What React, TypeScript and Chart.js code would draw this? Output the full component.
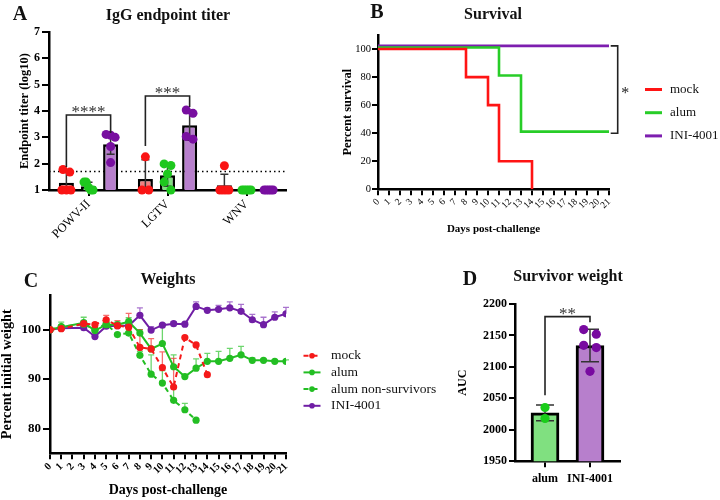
import React, { useEffect, useRef } from 'react';
import { Chart, registerables } from 'chart.js';

Chart.register(...registerables);

const SERIF = "'Liberation Serif', 'Times New Roman', serif";
Chart.defaults.color = '#000';
Chart.defaults.font.family = SERIF;

// ---------------- Panel A: IgG endpoint titer ----------------
const titerGroups = ['POWV-II', 'LGTV', 'WNV'];
const titerSeries = ['mock', 'alum', 'INI-4001'];
const titerMockMean = [1.28, 1.42, 1.18];
const titerAlumMean = [1.14, 1.56, 1.0];
const titerIniMean = [2.74, 3.46, 1.0];
const titerMockSD = [0.41, 0.73, 0.42];
const titerAlumSD = [0.15, 0.42, 0];
const titerIniSD = [0.38, 0.57, 0];
const titerMockPts = [[1.78, 1.68, 1.0, 1.0, 1.0], [2.26, 1.0, 1.0], [1.92, 1.0, 1.0, 1.0, 1.0]];
const titerAlumPts = [[1.3, 1.3, 1.1, 1.0, 1.0], [1.99, 1.93, 1.61, 1.3, 1.0], [1.0, 1.0, 1.0, 1.0, 1.0]];
const titerIniPts = [[3.08, 3.11, 3.0, 2.65, 2.04], [3.91, 4.04, 2.93, 3.03], [1.0, 1.0, 1.0, 1.0, 1.0]];
const titerCutoff = 1.7;
// significance brackets: group, label, bracket top, left leg end, right leg end
const titerSigGroup = [0, 1];
const titerSigLabel = ['****', '***'];
const titerSigTop = [3.85, 4.57];
const titerSigLeftEnd = [1.87, 2.67];
const titerSigRightEnd = [3.16, 4.15];

// ---------------- Panel B: Survival ----------------
const survSeries = ['mock', 'alum', 'INI-4001'];
const survMockDays = [0, 8, 10, 11, 14];
const survMockPct = [100, 80, 60, 20, 0];
const survAlumDays = [0, 11, 13, 21];
const survAlumPct = [100, 80, 40, 40];
const survIniDays = [0, 21];
const survIniPct = [100, 100];
const survSig = '*';

// ---------------- Panel C: Weights ----------------
const wMockDays = [0, 1, 3, 4, 5, 6, 7, 8, 9, 10, 11, 12, 13, 14];
const wMock = [100, 100.2, 101.2, 101.0, 102.0, 100.8, 100.5, 96.4, 96.1, 92.3, 88.4, 98.4, 96.9, 90.9];
const wMockErr = [0, 0.3, 0.5, 0.4, 0.9, 1.0, 2.8, 3.6, 2.1, 3.2, 5.8, 0, 0, 0];
const wAlumDays = [0, 1, 3, 4, 5, 6, 7, 8, 9, 10, 11, 12, 13, 14, 15, 16, 17, 18, 19, 20, 21];
const wAlum = [100, 100.5, 101.4, 99.8, 101.0, 101.0, 101.6, 99.3, 96.1, 97.2, 92.5, 90.5, 92.2, 93.6, 93.6, 94.2, 94.9, 93.8, 93.8, 93.6, 93.6];
const wAlumErr = [0, 1.0, 1.1, 0.5, 0.6, 0.5, 0.8, 0.7, 0, 4.0, 2.4, 0, 1.9, 1.6, 2.0, 2.0, 1.7, 0.5, 0.3, 0.3, 0.3];
const wAlumNSDays = [0, 1, 3, 4, 5, 6, 7, 8, 9, 10, 11, 12, 13];
const wAlumNS = [100, 100.6, 101.1, 100.0, 101.2, 99.0, 99.3, 94.8, 91.0, 89.2, 85.7, 83.8, 81.7];
const wAlumNSErr = [0, 0.3, 0.3, 0.3, 0.3, 0.3, 0.3, 0.8, 3.9, 2.5, 3.0, 1.3, 0];
const wIniDays = [0, 1, 3, 4, 5, 6, 7, 8, 9, 10, 11, 12, 13, 14, 15, 16, 17, 18, 19, 20, 21];
const wIni = [100, 100.3, 100.4, 98.6, 100.7, 100.8, 100.8, 102.9, 99.9, 100.9, 101.2, 101.1, 104.7, 103.9, 104.1, 104.4, 103.7, 102.0, 101.0, 102.5, 103.2];
const wIniErr = [0, 0.5, 0.3, 0.3, 0.3, 0.3, 0.3, 1.5, 0.7, 0.3, 0.4, 0.3, 0.9, 0.5, 0.8, 1.2, 1.4, 1.1, 1.5, 1.1, 1.3];
const wSeries = ['mock', 'alum', 'alum non-survivors', 'INI-4001'];

// ---------------- Panel D: Survivor weight ----------------
const aucGroups = ['alum', 'INI-4001'];
const aucMean = [2027, 2134];
const aucSD = [12.5, 25.8];
const aucPts = [[2035.5, 2018], [2159.4, 2152, 2134.4, 2130.7, 2093]];
const aucSigLabel = '**';
const aucSigTop = 2180;
const aucSigLeftEnd = 2055;
const aucSigRightEnd = 2171;

// ---------------- helpers ----------------
function swarm(values: number[], yScale: any, step: number, maxSpan: number, rowGap: number) {
  const order = values.map((_, i) => i).sort((a, b) => values[b] - values[a]);
  const offs = new Array(values.length).fill(0);
  let row: number[] = [];
  const flush = () => {
    const n = row.length;
    const s = n > 1 ? Math.min(step, maxSpan / (n - 1)) : 0;
    row.forEach((k, j) => { offs[k] = (j - (n - 1) / 2) * s; });
    row = [];
  };
  for (const k of order) {
    if (row.length && Math.abs(yScale.getPixelForValue(values[row[0]]) - yScale.getPixelForValue(values[k])) > rowGap) flush();
    row.push(k);
  }
  flush();
  return offs;
}

function dot(ctx: CanvasRenderingContext2D, x: number, y: number, r: number, color: string) {
  ctx.beginPath();
  ctx.arc(x, y, r, 0, Math.PI * 2);
  ctx.fillStyle = color;
  ctx.fill();
}

function vErr(ctx: CanvasRenderingContext2D, x: number, y0: number, y1: number, cap: number, capTop: boolean, capBottom: boolean) {
  ctx.beginPath();
  ctx.moveTo(x, y0);
  ctx.lineTo(x, y1);
  if (capTop) { ctx.moveTo(x - cap, y1); ctx.lineTo(x + cap, y1); }
  if (capBottom) { ctx.moveTo(x - cap, y0); ctx.lineTo(x + cap, y0); }
  ctx.stroke();
}

function bracket(ctx: CanvasRenderingContext2D, x0: number, x1: number, yTop: number, yL: number, yR: number, label: string, size: number) {
  ctx.save();
  ctx.strokeStyle = '#222';
  ctx.lineWidth = 1.6;
  ctx.beginPath();
  ctx.moveTo(x0, yL);
  ctx.lineTo(x0, yTop);
  ctx.lineTo(x1, yTop);
  ctx.lineTo(x1, yR);
  ctx.stroke();
  ctx.fillStyle = '#333';
  ctx.font = `${size}px ${SERIF}`;
  ctx.textAlign = 'center';
  ctx.textBaseline = 'alphabetic';
  ctx.fillText(label, (x0 + x1) / 2, yTop + size * 0.12);
  ctx.restore();
}

const axisGrid = (len: number) => ({ display: true, drawOnChartArea: false, drawTicks: true, tickLength: len, color: '#000', lineWidth: 2, offset: false });
const axisBorder = { display: true, color: '#000', width: 2.5 };

// ---------------- Panel A config ----------------
const titerFill = ['rgb(240,128,128)', 'rgb(128,224,128)', 'rgb(183,127,204)'];
const titerDot = ['rgb(250,20,20)', 'rgb(30,200,30)', 'rgb(120,15,160)'];

const titerOverlay = {
  id: 'titerOverlay',
  beforeDatasetsDraw(chart: any) {
    const { ctx, chartArea, scales } = chart;
    const yc = scales.y.getPixelForValue(titerCutoff);
    ctx.save();
    ctx.setLineDash([1.5, 3]);
    ctx.strokeStyle = '#000';
    ctx.lineWidth = 1.4;
    ctx.beginPath();
    ctx.moveTo(chartArea.left, yc);
    ctx.lineTo(chartArea.right, yc);
    ctx.stroke();
    ctx.restore();
  },
  afterDatasetsDraw(chart: any) {
    const { ctx, scales } = chart;
    const y = scales.y;
    const means = [titerMockMean, titerAlumMean, titerIniMean];
    const sds = [titerMockSD, titerAlumSD, titerIniSD];
    const pts = [titerMockPts, titerAlumPts, titerIniPts];
    ctx.save();
    for (let k = 0; k < 3; k++) {
      const meta = chart.getDatasetMeta(k);
      for (let g = 0; g < titerGroups.length; g++) {
        const bar = meta.data[g];
        const m = means[k][g];
        const sd = sds[k][g];
        if (sd > 0) {
          ctx.strokeStyle = '#333';
          ctx.lineWidth = 1.5;
          const lo = Math.max(y.min, m - sd);
          vErr(ctx, bar.x, y.getPixelForValue(lo), y.getPixelForValue(m + sd), 4, true, m - sd > y.min);
        }
        const offs = swarm(pts[k][g], y, bar.width * 0.45, bar.width * 0.6, 8);
        pts[k][g].forEach((v, j) => dot(ctx, bar.x + offs[j], y.getPixelForValue(v), 4.5, titerDot[k]));
      }
    }
    const mMock = chart.getDatasetMeta(0);
    const mIni = chart.getDatasetMeta(2);
    titerSigGroup.forEach((g, i) => {
      bracket(ctx, mMock.data[g].x, mIni.data[g].x, y.getPixelForValue(titerSigTop[i]), y.getPixelForValue(titerSigLeftEnd[i]), y.getPixelForValue(titerSigRightEnd[i]), titerSigLabel[i], 17);
    });
    ctx.restore();
  },
};

function makeTiter(): any {
  const means = [titerMockMean, titerAlumMean, titerIniMean];
  return {
    type: 'bar',
    data: {
      labels: titerGroups,
      datasets: titerSeries.map((s, k) => ({ label: s, data: means[k], backgroundColor: titerFill[k] })),
    },
    options: {
      responsive: false,
      animation: false,
      layout: { padding: { left: 17.5, right: 14, top: 32, bottom: 0 } },
      plugins: { legend: { display: false }, tooltip: { enabled: false } },
      datasets: { bar: { borderColor: '#000', borderWidth: 2.5, categoryPercentage: 0.84, barPercentage: 0.68, borderSkipped: 'bottom' } },
      scales: {
        x: {
          grid: axisGrid(6),
          border: axisBorder,
          ticks: { font: { size: 12.5 }, minRotation: 45, maxRotation: 45, autoSkip: false, padding: 1 },
          afterFit: (s: any) => { s.height = 60; },
        },
        y: {
          min: 1,
          max: 7,
          grid: axisGrid(7),
          border: axisBorder,
          ticks: { stepSize: 1, font: { size: 12, weight: 'bold' }, padding: 2 },
          title: { display: true, text: 'Endpoint titer (log10)', font: { size: 12.5, weight: 'bold', lineHeight: 1.2 }, padding: 0 },
          afterFit: (s: any) => { s.width = 31.5; },
        },
      },
    },
    plugins: [titerOverlay],
  };
}

// ---------------- Panel B config ----------------
const survColors = ['rgb(255,20,20)', 'rgb(40,205,40)', 'rgb(125,30,175)'];
const survShiftPx = [0, -1.6, -3.2];

const survShift = {
  id: 'survShift',
  beforeDatasetDraw(chart: any, args: any) {
    chart.ctx.save();
    chart.ctx.translate(0, survShiftPx[args.index] || 0);
  },
  afterDatasetDraw(chart: any) {
    chart.ctx.restore();
  },
};

const survDecor = {
  id: 'survDecor',
  afterDraw(chart: any) {
    const { ctx, chartArea, scales } = chart;
    ctx.save();
    chart.data.datasets.forEach((ds: any, i: number) => {
      const yy = chartArea.top + 54.5 + i * 23.2;
      const x0 = chartArea.right + 36;
      ctx.strokeStyle = ds.borderColor;
      ctx.lineWidth = 3;
      ctx.beginPath();
      ctx.moveTo(x0, yy);
      ctx.lineTo(x0 + 17, yy);
      ctx.stroke();
      ctx.fillStyle = '#111';
      ctx.font = `13px ${SERIF}`;
      ctx.textAlign = 'left';
      ctx.textBaseline = 'middle';
      ctx.fillText(ds.label, x0 + 25, yy);
    });
    const yTop = scales.y.getPixelForValue(survIniPct[survIniPct.length - 1]) + survShiftPx[2];
    const yBot = scales.y.getPixelForValue(survAlumPct[survAlumPct.length - 1]);
    const xr = chartArea.right + 8.7;
    const xl = chartArea.right + 1.7;
    ctx.strokeStyle = '#222';
    ctx.lineWidth = 1.6;
    ctx.beginPath();
    ctx.moveTo(xl, yTop);
    ctx.lineTo(xr, yTop);
    ctx.lineTo(xr, yBot);
    ctx.lineTo(xl, yBot);
    ctx.stroke();
    ctx.fillStyle = '#222';
    ctx.font = `16px ${SERIF}`;
    ctx.textAlign = 'center';
    ctx.textBaseline = 'alphabetic';
    ctx.fillText(survSig, xr + 7.5, (yTop + yBot) / 2 + 8);
    ctx.restore();
  },
};

function makeSurvival(): any {
  const days = [survMockDays, survAlumDays, survIniDays];
  const pct = [survMockPct, survAlumPct, survIniPct];
  return {
    type: 'line',
    data: {
      datasets: survSeries.map((s, k) => ({
        label: s,
        data: days[k].map((d, i) => ({ x: d, y: pct[k][i] })),
        borderColor: survColors[k],
        backgroundColor: survColors[k],
        stepped: 'before',
        borderWidth: 2.6,
        pointRadius: 0,
        fill: false,
      })),
    },
    options: {
      responsive: false,
      animation: false,
      layout: { padding: { left: 5.5, right: 111, top: 35, bottom: 14.4 } },
      plugins: { legend: { display: false }, tooltip: { enabled: false } },
      scales: {
        x: {
          type: 'linear',
          min: 0,
          max: 21,
          grid: axisGrid(6),
          border: axisBorder,
          ticks: { stepSize: 1, autoSkip: false, minRotation: 45, maxRotation: 45, font: { size: 9.5 }, padding: 1 },
          title: { display: true, text: 'Days post-challenge', font: { size: 11, weight: 'bold', lineHeight: 1.2 }, padding: 0 },
          afterFit: (s: any) => { s.height = 46.3; },
        },
        y: {
          min: 0,
          max: 110,
          grid: axisGrid(6),
          border: axisBorder,
          ticks: { stepSize: 20, includeBounds: false, font: { size: 10.5 }, padding: 1 },
          title: { display: true, text: 'Percent survival', font: { size: 12.5, weight: 'bold', lineHeight: 1.2 }, padding: 0 },
          afterFit: (s: any) => { s.width = 37.5; },
        },
      },
    },
    plugins: [survShift, survDecor],
  };
}

// ---------------- Panel C config ----------------
const wColors = ['rgb(245,25,25)', 'rgb(35,190,35)', 'rgb(35,190,35)', 'rgb(112,30,165)'];
const wErrColors = ['rgba(245,60,60,0.75)', 'rgba(60,200,60,0.75)', 'rgba(60,200,60,0.75)', 'rgba(140,70,190,0.75)'];
const wDashes = [[5, 4], [], [5, 4], []];

const wDecor = {
  id: 'wDecor',
  beforeDatasetsDraw(chart: any) {
    const { ctx, scales } = chart;
    const days = [wMockDays, wAlumDays, wAlumNSDays, wIniDays];
    const vals = [wMock, wAlum, wAlumNS, wIni];
    const errs = [wMockErr, wAlumErr, wAlumNSErr, wIniErr];
    ctx.save();
    ctx.lineWidth = 1.3;
    for (let k = 3; k >= 0; k--) {
      ctx.strokeStyle = wErrColors[k];
      days[k].forEach((d, i) => {
        if (errs[k][i] <= 0) return;
        const x = scales.x.getPixelForValue(d);
        vErr(ctx, x, scales.y.getPixelForValue(vals[k][i]), scales.y.getPixelForValue(vals[k][i] + errs[k][i]), 3, true, false);
      });
    }
    ctx.restore();
  },
  afterDraw(chart: any) {
    const { ctx, chartArea } = chart;
    ctx.save();
    chart.data.datasets.forEach((ds: any, i: number) => {
      const yy = chartArea.top + 60.7 + i * 16.7;
      const x0 = chartArea.right + 17.5;
      ctx.strokeStyle = wColors[i];
      ctx.lineWidth = 2;
      ctx.setLineDash(wDashes[i]);
      ctx.beginPath();
      ctx.moveTo(x0, yy);
      ctx.lineTo(x0 + 17, yy);
      ctx.stroke();
      ctx.setLineDash([]);
      dot(ctx, x0 + 8.5, yy, 2.8, wColors[i]);
      ctx.fillStyle = '#111';
      ctx.font = `13.5px ${SERIF}`;
      ctx.textAlign = 'left';
      ctx.textBaseline = 'middle';
      ctx.fillText(ds.label, x0 + 27.5, yy);
    });
    ctx.restore();
  },
};

function makeWeights(): any {
  const days = [wMockDays, wAlumDays, wAlumNSDays, wIniDays];
  const vals = [wMock, wAlum, wAlumNS, wIni];
  return {
    type: 'line',
    data: {
      datasets: wSeries.map((s, k) => ({
        label: s,
        data: days[k].map((d, i) => ({ x: d, y: vals[k][i] })),
        borderColor: wColors[k],
        backgroundColor: wColors[k],
        pointBackgroundColor: wColors[k],
        pointBorderColor: wColors[k],
        borderDash: wDashes[k],
        borderWidth: 2,
        pointRadius: 3.6,
        pointBorderWidth: 0,
        tension: 0,
        fill: false,
      })),
    },
    options: {
      responsive: false,
      animation: false,
      layout: { padding: { left: 0.5, right: 164, top: 45, bottom: 3 } },
      plugins: { legend: { display: false }, tooltip: { enabled: false } },
      scales: {
        x: {
          type: 'linear',
          min: 0,
          max: 21,
          grid: axisGrid(6),
          border: axisBorder,
          ticks: { stepSize: 1, autoSkip: false, minRotation: 45, maxRotation: 45, font: { size: 10.5, weight: 'bold' }, padding: 1 },
          title: { display: true, text: 'Days post-challenge', font: { size: 14, weight: 'bold', lineHeight: 1 }, padding: 0 },
          afterFit: (s: any) => { s.height = 43.7; },
        },
        y: {
          min: 75,
          max: 107,
          grid: axisGrid(7),
          border: axisBorder,
          ticks: { stepSize: 10, includeBounds: false, font: { size: 13, weight: 'bold' }, padding: 2 },
          title: { display: true, text: 'Percent initial weight', font: { size: 14.3, weight: 'bold', lineHeight: 1 }, padding: 0 },
          afterFit: (s: any) => { s.width = 49.5; },
        },
      },
    },
    plugins: [wDecor],
  };
}

// ---------------- Panel D config ----------------
const aucFill = ['rgb(128,224,128)', 'rgb(183,127,204)'];
const aucDot = ['rgb(25,205,25)', 'rgb(120,10,160)'];

const aucDecor = {
  id: 'aucDecor',
  afterDatasetsDraw(chart: any) {
    const { ctx, scales } = chart;
    const y = scales.y;
    const meta = chart.getDatasetMeta(0);
    ctx.save();
    aucGroups.forEach((_, g) => {
      const bar = meta.data[g];
      ctx.strokeStyle = '#333';
      ctx.lineWidth = 1.5;
      vErr(ctx, bar.x, y.getPixelForValue(aucMean[g] - aucSD[g]), y.getPixelForValue(aucMean[g] + aucSD[g]), 9, true, true);
      const offs = swarm(aucPts[g], y, bar.width * 0.45, bar.width * 0.6, 8);
      aucPts[g].forEach((v, j) => dot(ctx, bar.x + offs[j], y.getPixelForValue(v), 4.6, aucDot[g]));
    });
    bracket(ctx, meta.data[0].x, meta.data[1].x, y.getPixelForValue(aucSigTop), y.getPixelForValue(aucSigLeftEnd), y.getPixelForValue(aucSigRightEnd), aucSigLabel, 17);
    ctx.restore();
  },
};

function makeAuc(): any {
  return {
    type: 'bar',
    data: {
      datasets: [{
        label: 'AUC',
        data: aucGroups.map((_, i) => ({ x: i, y: aucMean[i] })),
        backgroundColor: aucFill,
        borderColor: '#000',
        borderWidth: 3,
        barThickness: 28,
        borderSkipped: 'bottom',
      }],
    },
    options: {
      responsive: false,
      animation: false,
      layout: { padding: { left: 17, right: 100, top: 54, bottom: 0 } },
      plugins: { legend: { display: false }, tooltip: { enabled: false } },
      scales: {
        x: {
          type: 'linear',
          offset: false,
          min: -0.667,
          max: 1.667,
          grid: axisGrid(6),
          border: axisBorder,
          afterBuildTicks: (s: any) => { s.ticks = aucGroups.map((_, i) => ({ value: i })); },
          ticks: { autoSkip: false, maxRotation: 0, minRotation: 0, font: { size: 12, weight: 'bold' }, padding: 4, callback: (v: any) => aucGroups[v] ?? '' },
          afterFit: (s: any) => { s.height = 38.7; },
        },
        y: {
          min: 1950,
          max: 2200,
          grid: axisGrid(6),
          border: axisBorder,
          ticks: { stepSize: 50, font: { size: 12, weight: 'bold' }, padding: 2, callback: (v: any) => String(v) },
          title: { display: true, text: 'AUC', font: { size: 12, weight: 'bold', lineHeight: 1 }, padding: 0 },
          afterFit: (s: any) => { s.width = 58; },
        },
      },
    },
    plugins: [aucDecor],
  };
}

// ---------------- components ----------------
function ChartCanvas({ left, top, width, height, make }: { left: number; top: number; width: number; height: number; make: () => any }) {
  const ref = useRef<HTMLCanvasElement>(null);
  useEffect(() => {
    const chart = new Chart(ref.current as HTMLCanvasElement, make());
    return () => chart.destroy();
  }, []);
  return <canvas ref={ref} width={width} height={height} style={{ position: 'absolute', left, top, width, height }} />;
}

function Label({ x, y, text, size, family = SERIF }: { x: number; y: number; text: string; size: number; family?: string }) {
  return (
    <div style={{ position: 'absolute', left: x, top: y, transform: 'translate(-50%, -50%)', fontFamily: family, fontWeight: 'bold', fontSize: size, lineHeight: 1, whiteSpace: 'nowrap', color: '#111' }}>
      {text}
    </div>
  );
}

export default function App() {
  return (
    <div style={{ position: 'absolute', left: 0, top: 0, width: 720, height: 500, background: '#fff', overflow: 'hidden' }}>
      <ChartCanvas left={0} top={0} width={300} height={250} make={makeTiter} />
      <ChartCanvas left={335} top={0} width={385} height={250} make={makeSurvival} />
      <ChartCanvas left={0} top={250} width={450} height={250} make={makeWeights} />
      <ChartCanvas left={440} top={250} width={280} height={250} make={makeAuc} />
      <Label x={20} y={13} text="A" size={20} />
      <Label x={377} y={11} text="B" size={20} />
      <Label x={31} y={280} text="C" size={20} />
      <Label x={470} y={278} text="D" size={20} />
      <Label x={168} y={15} text="IgG endpoint titer" size={16} />
      <Label x={493} y={14} text="Survival" size={16} />
      <Label x={168} y={279} text="Weights" size={16} />
      <Label x={568} y={276} text="Survivor weight" size={16} />
    </div>
  );
}
